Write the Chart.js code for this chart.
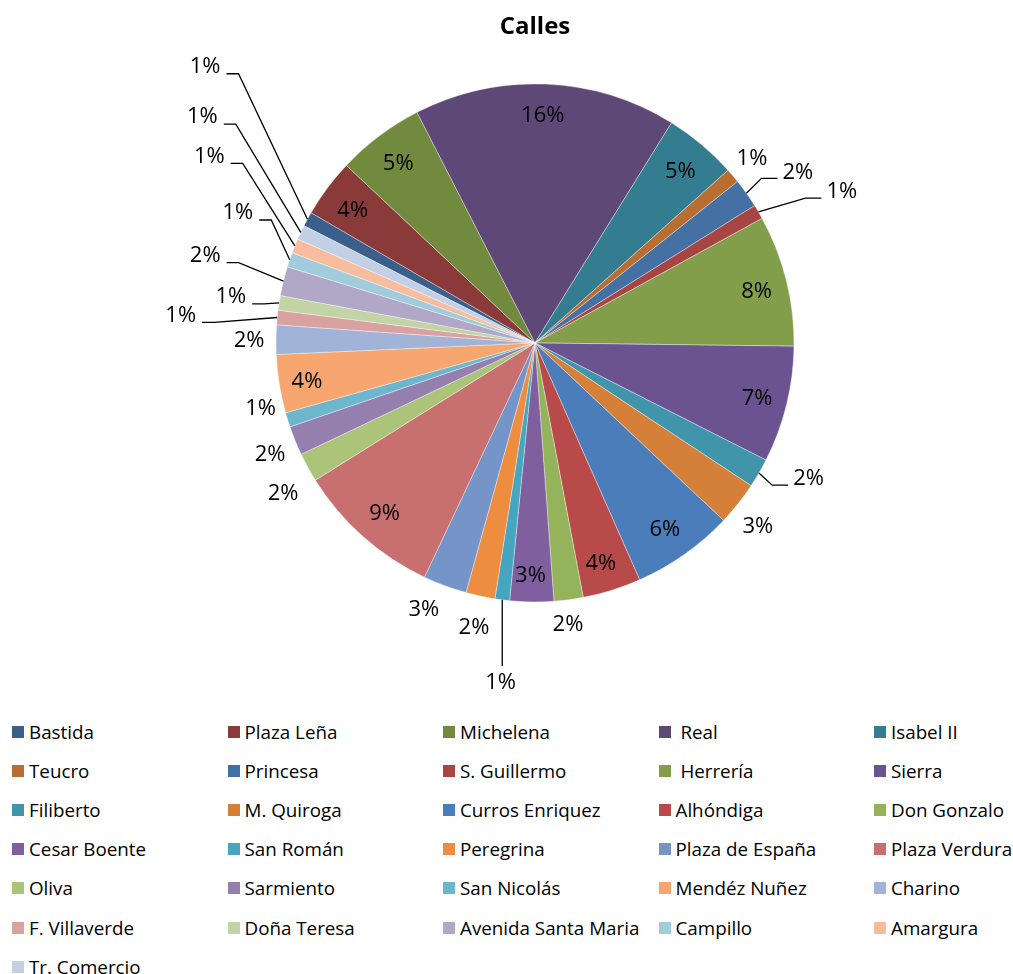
<!DOCTYPE html>
<html lang="es">
<head>
<meta charset="UTF-8">
<title>Calles</title>
<script src="https://cdn.jsdelivr.net/npm/chart.js@4"></script>
<style>
    body { margin: 0; background: #fff; font-family: 'Open Sans', sans-serif; }
    .wrap { position: relative; width: 1013px; height: 974px; overflow: hidden; }
    .chart-box { position: absolute; left: 0; top: 0; width: 1013px; height: 700px; }
    .legend { position: absolute; left: 12px; top: 712px; display: grid; grid-template-columns: repeat(5, 215.5px); grid-auto-rows: 39.2px; }
    .legend .item { display: flex; align-items: center; font-size: 18.8px; color: #000; white-space: pre; }
    .legend .box { width: 12px; height: 12px; margin-right: 5px; flex: none; }
</style>
</head>
<body>
<div class="wrap">
    <div class="chart-box"><canvas id="pie"></canvas></div>
    <div class="legend" id="legend"></div>
</div>
<script>
// Datos
const calles = ['Bastida', 'Plaza Leña', 'Michelena', ' Real', 'Isabel II',
    'Teucro', 'Princesa', 'S. Guillermo', ' Herrería', 'Sierra',
    'Filiberto', 'M. Quiroga', 'Curros Enriquez', 'Alhóndiga', 'Don Gonzalo',
    'Cesar Boente', 'San Román', 'Peregrina', 'Plaza de España', 'Plaza Verdura',
    'Oliva', 'Sarmiento', 'San Nicolás', 'Mendéz Nuñez', 'Charino',
    'F. Villaverde', 'Doña Teresa', 'Avenida Santa Maria', 'Campillo', 'Amargura',
    'Tr. Comercio'];
const frecuencia = [1, 4, 6, 18, 5, 1, 2, 1, 9, 8, 2, 3, 7, 4, 2, 3, 1, 2, 3, 10,
    2, 2, 1, 4, 2, 1, 1, 2, 1, 1, 1];
const colores = ['#3a5f8b', '#8b3a3a', '#718a3e', '#5e4878', '#347d90',
    '#b76e30', '#4470a4', '#a74543', '#829e4a', '#6b5290',
    '#4195ab', '#d58038', '#4a7dba', '#b84b49', '#95b35a',
    '#7f5f9e', '#46a5bf', '#ee8d40', '#7595c8', '#c86f6f',
    '#abc47a', '#957faf', '#6db7ce', '#f6a66e', '#a1b3d6',
    '#d9a2a1', '#c2d4a5', '#b1a8c7', '#a1ccdc', '#f7bd9e',
    '#c3cfe4'];

// Colocación de las etiquetas: r = fracción del radio, d = giro (grados) respecto al centro del sector
const colocacion = [
    { r: 1.661, d: 11.4, guia: true }, { r: 0.87, d: -0.7 }, { r: 0.869, d: -0.5 }, { r: 0.877, d: -0.4 }, { r: 0.868, d: 0.3 },
    { r: 1.10, d: -0.2 }, { r: 1.21, d: 2.3, guia: true }, { r: 1.32, d: 4.2, guia: true }, { r: 0.878, d: 1.1 }, { r: 0.884, d: 0.3 },
    { r: 1.18, d: -3.7, guia: true }, { r: 1.116, d: 1.2 }, { r: 0.879, d: 0.5 }, { r: 0.89, d: 0.7 }, { r: 1.096, d: 0.8 },
    { r: 0.90, d: 0.4 }, { r: 1.32, d: -1.5, guia: true }, { r: 1.126, d: -0.1 }, { r: 1.115, d: 2.3 }, { r: 0.878, d: -0.2 },
    { r: 1.134, d: -2.2 }, { r: 1.11, d: -0.7 }, { r: 1.09, d: 3.7 }, { r: 0.893, d: -0.5 }, { r: 1.104, d: -0.2 },
    { r: 1.372, d: -1.2, guia: true }, { r: 1.188, d: -0.3, guia: true }, { r: 1.317, d: 1.0, guia: true }, { r: 1.252, d: 4.9, guia: true }, { r: 1.449, d: 7.8, guia: true },
    { r: 1.552, d: 8.9, guia: true }
];

const porcentajes = {
    id: 'porcentajes',
    afterDatasetsDraw(chart) {
        const ctx = chart.ctx;
        const meta = chart.getDatasetMeta(0);
        const total = frecuencia.reduce((a, b) => a + b, 0);
        ctx.save();
        ctx.font = '22px "Open Sans"';
        ctx.fillStyle = '#000';
        ctx.strokeStyle = '#000';
        ctx.lineWidth = 1.3;
        ctx.textAlign = 'center';
        ctx.textBaseline = 'middle';
        meta.data.forEach((arc, i) => {
            const { x, y, startAngle, endAngle, outerRadius } =
                arc.getProps(['x', 'y', 'startAngle', 'endAngle', 'outerRadius'], true);
            const mid = (startAngle + endAngle) / 2;
            const p = colocacion[i];
            const a = mid + p.d * Math.PI / 180;
            const lx = x + Math.cos(a) * outerRadius * p.r;
            const ly = y + Math.sin(a) * outerRadius * p.r;
            const txt = Math.round(frecuencia[i] / total * 100) + '%';

            if (p.guia) {
                const ex = x + Math.cos(mid) * outerRadius;
                const ey = y + Math.sin(mid) * outerRadius;
                const w = ctx.measureText(txt).width;
                ctx.beginPath();
                if (Math.abs(Math.cos(a)) < 0.3) {
                    ctx.moveTo(ex, ey);
                    ctx.lineTo(ex, ly - 17);
                } else if (Math.cos(a) < 0) {
                    const hx = lx + w / 2 + 6, hy = ly + 7;
                    ctx.moveTo(hx, hy);
                    ctx.lineTo(hx + 12, hy);
                    ctx.lineTo(ex, ey);
                } else {
                    const hx = lx - w / 2 - 5, hy = ly + 6;
                    ctx.moveTo(hx, hy);
                    ctx.lineTo(hx - 16, hy);
                    ctx.lineTo(ex, ey);
                }
                ctx.stroke();
            }
            ctx.fillText(txt, lx, ly);
        });
        ctx.restore();
    }
};

new Chart(document.getElementById('pie'), {
    type: 'pie',
    data: {
        labels: calles,
        datasets: [{
            data: frecuencia,
            backgroundColor: colores,
            borderColor: 'rgba(255,255,255,0.45)',
            borderWidth: 0.8,
            hoverOffset: 0
        }]
    },
    options: {
        responsive: true,
        maintainAspectRatio: false,
        animation: false,
        radius: 259,
        rotation: -63.1,
        layout: { padding: { left: 57, right: 0, top: 0, bottom: 98 } },
        plugins: {
            legend: { display: false },
            tooltip: { enabled: false },
            title: {
                display: true,
                text: 'Calles',
                color: '#000',
                font: { family: 'Open Sans', size: 24, weight: 'bold' },
                padding: { top: 13, bottom: 42 }
            }
        }
    },
    plugins: [porcentajes]
});

// Leyenda en cinco columnas
const leyenda = document.getElementById('legend');
calles.forEach((c, i) => {
    const item = document.createElement('div');
    item.className = 'item';
    item.innerHTML = `<span class="box" style="background:${colores[i]}"></span><span></span>`;
    item.lastChild.textContent = c;
    leyenda.appendChild(item);
});
</script>
</body>
</html>
